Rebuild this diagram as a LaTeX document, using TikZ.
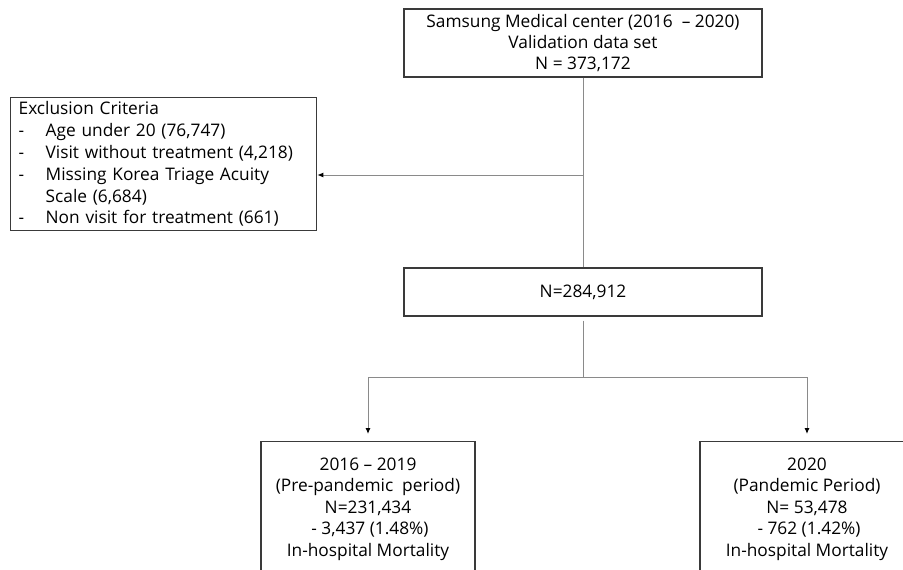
\documentclass[tikz,border=0pt]{standalone}
\usepackage{fontspec}
\setmainfont{Open Sans}
\usepackage{xcolor}
\usepackage{tikz}
\usetikzlibrary{arrows.meta}
\definecolor{boxline}{HTML}{3A3A3A}
\definecolor{connline}{HTML}{8A8A8A}

\begin{document}
\begin{tikzpicture}[x=1pt, y=-1pt,
    box/.style={draw=boxline, line width=1.3pt, rectangle, align=center, font=\fontsize{17.3}{21}\selectfont},
    conn/.style={draw=connline, line width=1pt},
    arr/.style={conn, -{Latex[length=6pt, width=5pt, color=black]}}]
    \useasboundingbox (0,0) rectangle (903,570);
    \clip (0,0) rectangle (903,570);
    % Nodes
    \node[box, minimum width=358pt, minimum height=68pt] (source) at (583,43) {Samsung Medical center (2016~~-- 2020)\\Validation data set\\N = 373,172};
    \node[box, anchor=north west, align=left, text width=290pt, inner xsep=8pt, inner ysep=1pt, minimum height=133pt, font=\fontsize{17.3}{21.8}\selectfont] (exclusion) at (10,97) {Exclusion Criteria\\
        \makebox[27pt][l]{-}Age under 20 (76,747)\\
        \makebox[27pt][l]{-}Visit without treatment (4,218)\\
        \makebox[27pt][l]{-}Missing Korea Triage Acuity\\
        \makebox[27pt][l]{}Scale (6,684)\\
        \makebox[27pt][l]{-}Non visit for treatment (661)};
    \node[box, minimum width=358pt, minimum height=48pt] (total) at (583,292) {N=284,912};
    \node[box, anchor=north, minimum width=214pt, inner ysep=16pt, font=\fontsize{17.3}{21.5}\selectfont] (prepandemic) at (368,441) {2016 -- 2019\\(Pre-pandemic~ period)\\N=231,434\\\hspace*{4pt}- 3,437 (1.48\%)\\In-hospital Mortality};
    \node[box, anchor=north, minimum width=214pt, inner ysep=16pt, font=\fontsize{17.3}{21.5}\selectfont] (pandemic) at (807,441) {2020\\(Pandemic Period)\\N= 53,478\\\hspace*{4pt}- 762 (1.42\%)\\In-hospital Mortality};
    \coordinate (exsplit) at (583,175);
    \coordinate (fork) at (583,377);

    % Connections
    \draw[conn] (source) -- (total);
    \draw[arr] (exsplit) -- (exsplit -| exclusion.east);
    \draw[conn, shorten <=4pt] (total) -- (fork);
    \draw[arr, shorten >=7pt] (fork) -| (prepandemic.north);
    \draw[arr, shorten >=7pt] (fork) -| (pandemic.north);
\end{tikzpicture}
\end{document}
